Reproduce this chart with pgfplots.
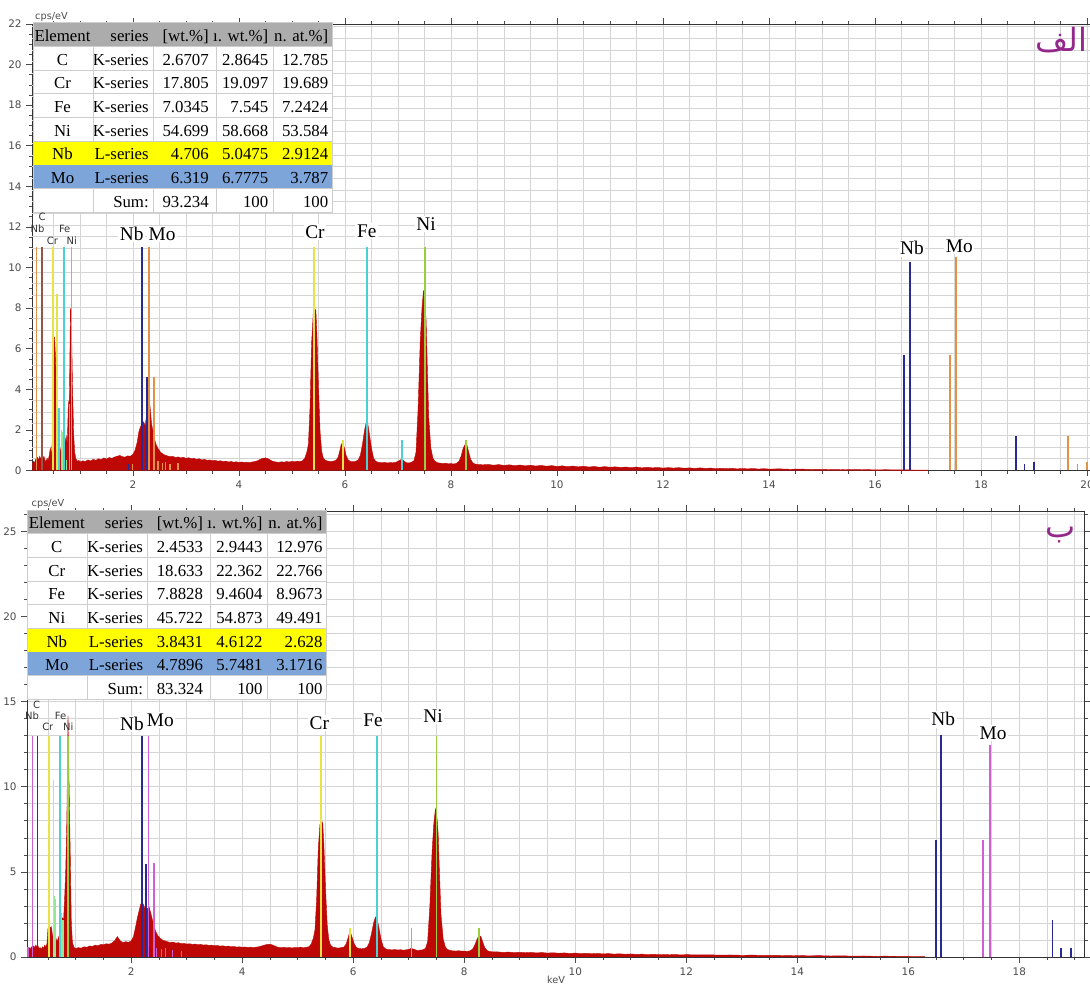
\documentclass[border=0pt]{standalone}
\usepackage{fontspec}
\setmainfont{Liberation Serif}
\setsansfont{DejaVu Sans}
\newfontfamily\arabicfont[Script=Arabic]{DejaVu Sans}
\TeXXeTstate=1
\usepackage{pgfplots}
\pgfplotsset{compat=1.18}
\usepackage{pgfplotstable}

\definecolor{spec}{RGB}{190,8,6}
\definecolor{cNb}{RGB}{40,40,150}
\definecolor{cMoA}{RGB}{226,146,70}
\definecolor{cMoB}{RGB}{206,96,212}
\definecolor{cCA}{RGB}{150,85,65}
\definecolor{cCB}{RGB}{115,35,25}
\definecolor{cCr}{RGB}{232,226,70}
\definecolor{cFe}{RGB}{75,208,212}
\definecolor{cNi}{RGB}{155,206,60}
\definecolor{cLg}{RGB}{150,230,150}
\definecolor{hdr}{RGB}{172,172,172}
\definecolor{yel}{RGB}{255,255,0}
\definecolor{blu}{RGB}{125,165,218}
\definecolor{tline}{RGB}{205,205,205}
\definecolor{purp}{RGB}{148,38,140}
\definecolor{tickc}{RGB}{75,75,75}
\definecolor{gridc}{RGB}{212,212,212}

\newcommand\tabfont{\fontsize{12.6}{14}\selectfont}
\newcommand\pkfont{\fontsize{14.5}{16}\selectfont}
\newcommand\smfont{\sffamily\fontsize{7.5}{8.5}\selectfont}

\pgfplotsset{
  eds/.style={
    scale only axis, anchor=south west,
    axis line style={draw=black!80, line width=0.7pt},
    tick align=outside,
    major tick length=4.5pt, minor tick length=2.4pt,
    tick style={draw=black!70, line width=0.5pt},
    xtick={2,4,...,20}, minor xtick={0,0.5,...,20},
    xmajorgrids, xminorgrids,
    major grid style={draw=gridc, line width=0.5pt},
    minor grid style={draw=gridc, line width=0.5pt},
    ticklabel style={font=\sffamily\fontsize{7.8}{9}\selectfont, text=tickc},
    /pgf/number format/assume math mode=true,
    clip=true,
  },
  mk/.style={ycomb, draw=#1, line width=1.3pt},
  stub/.style={ycomb, draw=#1, line width=0.9pt},
}

\pgfplotstableread{
x y
0.10 0.30
0.12 0.45
0.14 0.35
0.16 0.55
0.18 0.40
0.20 0.65
0.22 0.50
0.24 0.70
0.26 0.55
0.28 0.75
0.30 0.60
0.32 0.70
0.34 0.50
0.36 0.45
0.38 0.60
0.40 0.50
0.42 0.75
0.44 1.10
0.46 0.70
0.48 1.60
0.50 6.60
0.52 6.55
0.54 5.50
0.56 3.20
0.58 1.40
0.60 1.00
0.62 0.85
0.64 1.10
0.66 0.80
0.68 1.30
0.70 1.00
0.72 1.40
0.74 1.70
0.76 1.30
0.78 3.30
0.80 3.50
0.82 8.00
0.84 7.00
0.86 4.00
0.88 1.80
0.90 0.90
0.92 0.60
0.95 0.45
0.98 0.50
1.00 0.42
1.05 0.48
1.10 0.44
1.15 0.52
1.20 0.47
1.25 0.55
1.30 0.50
1.35 0.58
1.40 0.53
1.45 0.62
1.50 0.56
1.55 0.64
1.60 0.60
1.65 0.66
1.70 0.70
1.75 0.74
1.80 0.68
1.85 0.66
1.90 0.72
1.95 0.70
2.00 0.80
2.04 1.00
2.08 1.40
2.11 1.90
2.14 2.15
2.17 2.30
2.20 2.40
2.23 2.20
2.25 2.60
2.27 3.30
2.29 3.60
2.31 3.45
2.33 2.90
2.35 2.30
2.38 1.90
2.41 1.50
2.44 1.25
2.48 1.05
2.52 0.90
2.56 0.82
2.60 0.76
2.65 0.72
2.70 0.68
2.75 0.70
2.80 0.64
2.85 0.67
2.90 0.62
2.95 0.65
3.00 0.60
3.05 0.63
3.10 0.58
3.15 0.60
3.20 0.55
3.25 0.58
3.30 0.52
3.35 0.55
3.40 0.50
3.45 0.52
3.50 0.48
3.55 0.50
3.60 0.46
3.65 0.48
3.70 0.44
3.75 0.46
3.80 0.42
3.85 0.44
3.90 0.41
3.95 0.43
4.00 0.40
4.05 0.42
4.10 0.40
4.15 0.41
4.20 0.39
4.25 0.42
4.30 0.44
4.35 0.48
4.40 0.55
4.45 0.60
4.50 0.62
4.55 0.58
4.60 0.50
4.65 0.44
4.70 0.42
4.75 0.40
4.80 0.43
4.85 0.41
4.90 0.44
4.95 0.42
5.00 0.45
5.05 0.43
5.10 0.46
5.15 0.44
5.20 0.48
5.24 0.60
5.28 0.90
5.31 1.30
5.34 3.10
5.37 6.30
5.40 7.70
5.43 7.95
5.45 7.90
5.47 6.70
5.50 4.10
5.53 1.90
5.56 0.95
5.59 0.62
5.63 0.50
5.68 0.46
5.73 0.44
5.78 0.46
5.83 0.50
5.87 0.65
5.90 0.95
5.93 1.30
5.96 1.35
5.99 1.10
6.02 0.75
6.06 0.52
6.10 0.45
6.15 0.43
6.20 0.45
6.25 0.52
6.29 0.75
6.33 1.30
6.37 2.00
6.40 2.36
6.43 2.30
6.46 1.80
6.50 1.10
6.54 0.60
6.58 0.45
6.63 0.40
6.70 0.38
6.75 0.40
6.80 0.37
6.85 0.39
6.90 0.38
6.95 0.40
7.00 0.45
7.04 0.52
7.08 0.55
7.12 0.45
7.16 0.38
7.20 0.37
7.25 0.40
7.30 0.48
7.34 0.90
7.38 3.10
7.42 6.40
7.45 7.90
7.48 8.87
7.51 8.20
7.53 7.40
7.55 5.40
7.58 2.60
7.62 1.10
7.66 0.60
7.70 0.45
7.75 0.38
7.80 0.36
7.85 0.34
7.90 0.36
7.95 0.33
8.00 0.34
8.05 0.32
8.10 0.35
8.15 0.45
8.19 0.70
8.23 1.10
8.27 1.30
8.30 1.25
8.33 0.95
8.37 0.55
8.41 0.38
8.45 0.32
8.50 0.30
8.6 0.28
8.7 0.30
8.8 0.26
8.9 0.29
9.0 0.25
9.1 0.28
9.2 0.24
9.3 0.27
9.4 0.23
9.5 0.26
9.6 0.22
9.7 0.25
9.8 0.21
9.9 0.24
10.0 0.20
10.1 0.23
10.2 0.19
10.3 0.22
10.4 0.18
10.5 0.21
10.6 0.17
10.7 0.20
10.8 0.16
10.9 0.19
11.0 0.16
11.1 0.18
11.2 0.15
11.3 0.17
11.4 0.14
11.5 0.17
11.6 0.13
11.7 0.16
11.8 0.13
11.9 0.15
12.0 0.12
12.1 0.14
12.2 0.12
12.3 0.14
12.4 0.11
12.5 0.13
12.6 0.10
12.7 0.13
12.8 0.10
12.9 0.12
13.0 0.09
13.1 0.11
13.2 0.09
13.3 0.11
13.4 0.08
13.5 0.10
13.6 0.08
13.7 0.10
13.8 0.07
13.9 0.09
14.0 0.07
14.2 0.08
14.4 0.06
14.6 0.07
14.8 0.05
15.0 0.06
15.2 0.04
15.4 0.05
15.6 0.04
15.8 0.05
16.0 0.03
16.2 0.04
16.4 0.03
16.6 0.03
16.8 0.02
17.0 0.02
}\specA

\pgfplotstableread{
x y
0.125 0.40
0.14 0.40
0.16 0.55
0.18 0.45
0.20 0.60
0.22 0.50
0.24 0.65
0.26 0.55
0.28 0.70
0.30 0.60
0.32 0.65
0.34 0.50
0.36 0.55
0.38 0.45
0.40 0.60
0.42 0.50
0.44 0.70
0.46 0.60
0.48 0.75
0.50 1.70
0.52 1.80
0.54 1.72
0.56 1.78
0.58 1.30
0.60 1.05
0.62 0.95
0.64 1.15
0.66 0.90
0.68 1.05
0.70 1.25
0.72 1.50
0.74 1.95
0.76 2.30
0.78 2.10
0.80 3.50
0.82 5.20
0.84 8.20
0.86 14.15
0.88 10.00
0.90 6.20
0.92 2.00
0.94 0.85
0.97 0.55
1.00 0.50
1.05 0.55
1.10 0.52
1.15 0.60
1.20 0.57
1.25 0.65
1.30 0.62
1.35 0.70
1.40 0.66
1.45 0.74
1.50 0.72
1.55 0.78
1.60 0.75
1.65 0.82
1.70 0.95
1.75 1.20
1.80 0.95
1.85 0.85
1.90 0.90
1.95 0.86
2.00 0.95
2.04 1.20
2.08 1.80
2.11 2.30
2.14 2.70
2.17 3.10
2.20 3.20
2.23 3.00
2.26 2.70
2.29 2.85
2.32 2.95
2.35 2.60
2.38 2.20
2.41 1.80
2.44 1.50
2.48 1.25
2.52 1.10
2.56 1.00
2.60 0.95
2.65 0.90
2.70 0.85
2.75 0.88
2.80 0.82
2.85 0.84
2.90 0.78
2.95 0.80
3.00 0.76
3.05 0.78
3.10 0.74
3.15 0.76
3.20 0.72
3.25 0.74
3.30 0.70
3.35 0.72
3.40 0.68
3.45 0.70
3.50 0.66
3.55 0.68
3.60 0.64
3.65 0.66
3.70 0.62
3.75 0.64
3.80 0.60
3.85 0.62
3.90 0.58
3.95 0.60
4.00 0.57
4.05 0.59
4.10 0.56
4.15 0.58
4.20 0.55
4.25 0.58
4.30 0.60
4.35 0.65
4.40 0.70
4.45 0.74
4.50 0.75
4.55 0.70
4.60 0.62
4.65 0.57
4.70 0.55
4.75 0.57
4.80 0.54
4.85 0.56
4.90 0.53
4.95 0.56
5.00 0.55
5.05 0.58
5.10 0.54
5.15 0.57
5.20 0.60
5.24 0.75
5.28 1.10
5.31 1.60
5.34 3.40
5.37 6.40
5.40 7.80
5.43 8.00
5.45 7.85
5.47 6.60
5.50 4.00
5.53 1.90
5.56 1.00
5.59 0.70
5.63 0.58
5.68 0.55
5.73 0.52
5.78 0.55
5.83 0.58
5.87 0.75
5.90 1.05
5.93 1.40
5.96 1.35
5.99 1.05
6.02 0.75
6.06 0.55
6.10 0.50
6.15 0.48
6.20 0.50
6.25 0.58
6.29 0.85
6.33 1.40
6.37 2.05
6.40 2.35
6.43 2.25
6.46 1.75
6.50 1.05
6.54 0.60
6.58 0.48
6.63 0.44
6.70 0.42
6.75 0.44
6.80 0.41
6.85 0.43
6.90 0.40
6.95 0.42
7.00 0.45
7.04 0.50
7.08 0.47
7.12 0.42
7.16 0.38
7.20 0.40
7.25 0.42
7.30 0.50
7.34 0.90
7.38 3.00
7.42 6.20
7.45 7.80
7.48 8.70
7.51 8.10
7.53 7.20
7.55 5.20
7.58 2.50
7.62 1.05
7.66 0.58
7.70 0.44
7.75 0.38
7.80 0.36
7.85 0.35
7.90 0.37
7.95 0.34
8.00 0.35
8.05 0.33
8.10 0.36
8.15 0.46
8.19 0.70
8.23 1.05
8.27 1.27
8.30 1.20
8.33 0.90
8.37 0.55
8.41 0.38
8.45 0.33
8.50 0.30
8.6 0.30
8.7 0.27
8.8 0.29
8.9 0.26
9.0 0.28
9.1 0.25
9.2 0.27
9.3 0.24
9.4 0.26
9.5 0.23
9.6 0.25
9.7 0.22
9.8 0.24
9.9 0.21
10.0 0.23
10.1 0.20
10.2 0.22
10.3 0.19
10.4 0.21
10.5 0.18
10.6 0.20
10.7 0.17
10.8 0.19
10.9 0.16
11.0 0.18
11.1 0.15
11.2 0.17
11.3 0.14
11.4 0.16
11.5 0.14
11.6 0.15
11.7 0.13
11.8 0.15
11.9 0.12
12.0 0.14
12.2 0.12
12.4 0.13
12.6 0.11
12.8 0.12
13.0 0.10
13.2 0.11
13.4 0.09
13.6 0.10
13.8 0.08
14.0 0.09
14.2 0.07
14.4 0.08
14.6 0.06
14.8 0.07
15.0 0.05
15.2 0.06
15.4 0.04
15.6 0.05
15.8 0.03
16.0 0.03
16.3 0.02
}\specB

% table helpers (used inside the flipped px scope)
\newcommand{\trow}[7]{%
  \fill[#2] (\tx,{\ty+#1*23.7}) rectangle ++(299,23.7);
  \node[anchor=base] at ({\tx+29.5},{\ty+#1*23.7+18.8}) {#3};
  \node[anchor=base east] at ({\tx+116},{\ty+#1*23.7+18.8}) {#4};
  \node[anchor=base east] at ({\tx+176},{\ty+#1*23.7+18.8}) {#5};
  \node[anchor=base east] at ({\tx+235.5},{\ty+#1*23.7+18.8}) {#6};
  \node[anchor=base east] at ({\tx+295.5},{\ty+#1*23.7+18.8}) {#7};
}
\newcommand{\tgrid}{%
  \foreach \k in {1,2,3,4,5,7,8} {\draw[tline, line width=0.6pt] (\tx,{\ty+\k*23.7}) -- ++(299,0);}
  \foreach \c in {60,120,183.5,240} {
    \draw[tline, line width=0.6pt] ({\tx+\c},{\ty+23.7}) -- ++(0,{4*23.7});
    \draw[tline, line width=0.6pt] ({\tx+\c},{\ty+7*23.7}) -- ++(0,23.7);}
  \draw[tline, line width=0.6pt] (\tx,\ty) rectangle ++(299,{8*23.7});
}

\begin{document}
\begin{tikzpicture}
\useasboundingbox (0pt,0pt) rectangle (817.5pt,739.5pt);

% ---------------- top panel
\begin{axis}[eds, at={(24.225pt,386.625pt)}, width=795pt, height=334.875pt,
  xmin=0.1, xmax=20.1, ymin=0, ymax=22,
  ytick={0,2,...,22}, minor ytick={0,0.5,...,22},
  extra y ticks={0.5757,1.1514,...,21.95}, extra y tick labels={},
  extra y tick style={grid=major, major tick length=0pt}]
\addplot[draw=spec, fill=spec, line width=0.3pt] table {\specA} \closedcycle;
\addplot[stub=cLg] coordinates {(0.65,2.0) (0.67,1.9) (0.70,1.6) (0.74,0.5)};
\addplot[stub=cNb] coordinates {(1.91,0.3) (2.35,0.35) (2.40,0.25)};
\addplot[stub=cMoA] coordinates {(1.99,0.3) (2.47,0.45) (2.55,0.35) (2.62,0.4) (2.70,0.3) (2.85,0.35)};
\addplot[mk=cMoA] coordinates {(0.18,11) (2.30,11) (2.40,4.6) (17.41,5.7) (17.53,10.5) (19.64,1.7) (19.82,0.3) (20.0,0.4)};
\addplot[mk=cCA] coordinates {(0.28,11)};
\addplot[mk=cCr] coordinates {(0.485,11) (0.57,8.7) (5.42,11) (5.96,1.5)};
\addplot[mk=cFe] coordinates {(0.60,3.1) (0.70,11) (6.42,11) (7.08,1.5)};
\addplot[mk=cNi] coordinates {(0.80,3.3) (0.84,11) (7.51,11) (8.28,1.5)};
\addplot[mk=cNb] coordinates {(2.175,11) (2.26,4.6) (16.55,5.7) (16.66,10.26) (18.66,1.7) (18.82,0.3) (19.0,0.4)};
\end{axis}

% ---------------- bottom panel
\begin{axis}[eds, at={(20.4pt,21.75pt)}, width=793.2pt, height=334.5pt,
  xmin=0.125, xmax=19.18, ymin=0, ymax=26.2,
  ytick={0,5,...,25}, minor ytick={0,1,...,26},
  ymajorgrids, yminorgrids]
\addplot[draw=spec, fill=spec, line width=0.3pt] table {\specB} \closedcycle;
\addplot[stub=cLg] coordinates {(0.62,3.6) (0.64,3.4) (0.75,2.6) (0.77,2.2)};
\addplot[stub=cNb] coordinates {(2.00,0.3) (2.33,0.6) (2.37,0.4)};
\addplot[stub=cMoB] coordinates {(0.14,0.6) (2.45,0.5) (2.55,0.45) (2.62,0.5) (2.75,0.4) (2.90,0.35)};
\addplot[mk=cMoB] coordinates {(0.22,13) (2.31,13) (2.41,5.5) (17.34,6.85) (17.47,12.46)};
\addplot[mk=cCB] coordinates {(0.31,13)};
\addplot[mk=cCr] coordinates {(0.52,13) (0.60,10.4) (5.42,13) (5.94,1.7)};
\addplot[mk=cFe] coordinates {(0.72,13) (6.43,13) (7.05,1.7)};
\addplot[mk=cNi] coordinates {(0.865,13) (7.50,13) (8.26,1.7)};
\addplot[mk=cNb] coordinates {(2.19,13) (2.26,5.45) (16.50,6.85) (16.59,13.05) (18.60,2.15) (18.75,0.5) (18.93,0.55)};
\end{axis}

% ---------------- overlays in pixel coordinates (y downwards)
\begin{scope}[shift={(0pt,739.5pt)}, yscale=-1, x=0.75pt, y=0.75pt,
  every node/.style={inner sep=0pt}]
  % tables
  \begin{scope}[font=\tabfont]
  \def\tx{33}\def\ty{22.7}
  \trow{0}{hdr}{Element}{series}{[wt.\%]}{ı. wt.\%]}{n. at.\%]}
  \trow{1}{white}{C}{K-series}{2.6707}{2.8645}{12.785}
  \trow{2}{white}{Cr}{K-series}{17.805}{19.097}{19.689}
  \trow{3}{white}{Fe}{K-series}{7.0345}{7.545}{7.2424}
  \trow{4}{white}{Ni}{K-series}{54.699}{58.668}{53.584}
  \trow{5}{yel}{Nb}{L-series}{4.706}{5.0475}{2.9124}
  \trow{6}{blu}{Mo}{L-series}{6.319}{6.7775}{3.787}
  \trow{7}{white}{}{Sum:}{93.234}{100}{100}
  \tgrid
  \def\tx{27.3}\def\ty{510}
  \trow{0}{hdr}{Element}{series}{[wt.\%]}{ı. wt.\%]}{n. at.\%]}
  \trow{1}{white}{C}{K-series}{2.4533}{2.9443}{12.976}
  \trow{2}{white}{Cr}{K-series}{18.633}{22.362}{22.766}
  \trow{3}{white}{Fe}{K-series}{7.8828}{9.4604}{8.9673}
  \trow{4}{white}{Ni}{K-series}{45.722}{54.873}{49.491}
  \trow{5}{yel}{Nb}{L-series}{3.8431}{4.6122}{2.628}
  \trow{6}{blu}{Mo}{L-series}{4.7896}{5.7481}{3.1716}
  \trow{7}{white}{}{Sum:}{83.324}{100}{100}
  \tgrid
  \end{scope}
  % peak labels
  \begin{scope}[every node/.style={inner sep=1.2pt, fill=white, font=\pkfont, anchor=base}]
  \node at (131.7,240.7) {Nb};
  \node at (162,240.7) {Mo};
  \node at (315,238.3) {Cr};
  \node at (366.7,237.3) {Fe};
  \node at (426,230.7) {Ni};
  \node at (912,255) {Nb};
  \node at (959.3,252.7) {Mo};
  \node at (132,730.7) {Nb};
  \node at (160.3,726.7) {Mo};
  \node at (319.3,729.3) {Cr};
  \node at (373,726.7) {Fe};
  \node at (433,722.3) {Ni};
  \node at (943.3,726) {Nb};
  \node at (993,739.3) {Mo};
  \end{scope}
  % small labels
  \begin{scope}[every node/.style={inner sep=0pt, font=\smfont, text=black!80, anchor=base}]
  \node at (42,220.7) {C};
  \node at (37.5,232.7) {Nb};
  \node at (64.7,232.7) {Fe};
  \node at (52.5,244.3) {Cr};
  \node at (71.7,244.3) {Ni};
  \node at (36.7,708.3) {C};
  \node at (32,719.3) {Nb};
  \node at (60.5,719.3) {Fe};
  \node at (47.8,731) {Cr};
  \node at (68.3,731) {Ni};
  \end{scope}
  % units
  \node[font=\sffamily\fontsize{7.3}{8.5}\selectfont, text=tickc, anchor=base] at (51.5,19.5) {cps/eV};
  \node[font=\sffamily\fontsize{7.3}{8.5}\selectfont, text=tickc, anchor=base] at (48,507) {cps/eV};
  \node[font=\sffamily\fontsize{7.3}{8.5}\selectfont, text=tickc, anchor=base] at (556,984) {keV};
  % panel letters
  \node[text=purp, font=\arabicfont\fontsize{24}{28}\selectfont, anchor=base] at (1061,52) {\beginR الف\endR};
  \node[text=purp, font=\arabicfont\fontsize{24}{28}\selectfont, anchor=base] at (1061,538) {\beginR ب\endR};
\end{scope}
\end{tikzpicture}
\end{document}
